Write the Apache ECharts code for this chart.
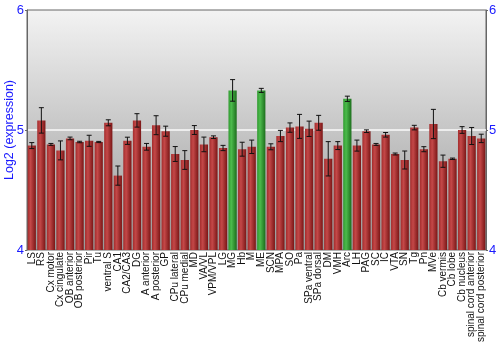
<!DOCTYPE html>
<html>
<head>
<meta charset="utf-8">
<script src="https://cdn.jsdelivr.net/npm/echarts@6/dist/echarts.min.js"></script>
<style>
    html, body { margin: 0; padding: 0; background: #fff; }
    #chart { width: 500px; height: 350px; }
</style>
</head>
<body>
<div id="chart"></div>
<script>
// brain regions, in the order shown
var regions = ['LS', 'RS', 'Cx motor', 'Cx cingulate', 'OB anterior', 'OB posterior', 'Pir', 'Tu',
    'ventral S', 'CA1', 'CA2/CA3', 'DG', 'A anterior', 'A posterior', 'GP', 'CPu lateral',
    'CPu medial', 'MD', 'VA/VL', 'VPM/VPL', 'LG', 'MG', 'Hb', 'M', 'ME', 'SCN', 'MPA', 'SO',
    'Pa', 'SPa ventral', 'SPa dorsal', 'DM', 'VMH', 'Arc', 'LH', 'PAG', 'SC', 'IC', 'VTA', 'SN',
    'Tg', 'Pn', 'MVe', 'Cb vermis', 'Cb lobe', 'Cb nucleus', 'spinal cord anterior', 'spinal cord posterior'];

// mean log2 expression
var expression = [4.87, 5.08, 4.88, 4.83, 4.93, 4.90, 4.91, 4.90,
    5.06, 4.62, 4.91, 5.08, 4.86, 5.04, 4.99, 4.80,
    4.75, 5.00, 4.88, 4.94, 4.85, 5.33, 4.84, 4.86, 5.33, 4.86, 4.95, 5.02,
    5.03, 5.01, 5.06, 4.76, 4.87, 5.26, 4.87, 4.99, 4.88, 4.96, 4.80, 4.75,
    5.02, 4.84, 5.05, 4.74, 4.76, 5.00, 4.95, 4.93];

// half-width of the error bars
var errors = [0.025, 0.106, 0.008, 0.079, 0.011, 0.006, 0.046, 0.005,
    0.025, 0.08, 0.03, 0.056, 0.028, 0.079, 0.042, 0.062,
    0.078, 0.037, 0.061, 0.011, 0.022, 0.09, 0.058, 0.056, 0.017, 0.025, 0.047, 0.039,
    0.1, 0.064, 0.062, 0.143, 0.033, 0.022, 0.046, 0.011, 0.008, 0.019, 0.008, 0.075,
    0.019, 0.021, 0.122, 0.051, 0.006, 0.028, 0.071, 0.035];

var highlighted = ['MG', 'ME', 'Arc'];

var yTicks = [4, 5, 6];

var redFill = new echarts.graphic.LinearGradient(0, 0, 1, 0, [
    { offset: 0, color: '#a32c2c' },
    { offset: 0.35, color: '#c44848' },
    { offset: 1, color: '#7a1616' }
]);
var greenFill = new echarts.graphic.LinearGradient(0, 0, 1, 0, [
    { offset: 0, color: '#2f9a2f' },
    { offset: 0.35, color: '#4cbb4c' },
    { offset: 1, color: '#1c6e1c' }
]);

var barData = expression.map(function (v, i) {
    var isHi = highlighted.indexOf(regions[i]) >= 0;
    return { value: v, itemStyle: { color: isHi ? greenFill : redFill } };
});

var errData = expression.map(function (v, i) {
    return [i, v - errors[i], v + errors[i]];
});

var axisBlue = '#1a1aff';

var chart = echarts.init(document.getElementById('chart'));

chart.setOption({
    animation: false,
    grid: {
        left: 27, right: 14, top: 10, bottom: 100,
        outerBoundsMode: 'none',
        containLabel: false,
        show: true,
        borderColor: '#666',
        borderWidth: 1,
        backgroundColor: new echarts.graphic.LinearGradient(0, 0, 0, 1, [
            { offset: 0, color: '#f3f3f3' },
            { offset: 1, color: '#999999' }
        ])
    },
    xAxis: {
        type: 'category',
        data: regions,
        axisLine: { show: false },
        axisTick: { show: false },
        axisLabel: {
            interval: 0,
            rotate: 90,
            margin: 2,
            fontSize: 10,
            fontFamily: 'Liberation Sans',
            color: '#111'
        }
    },
    yAxis: [{
        type: 'value',
        min: yTicks[0], max: yTicks[yTicks.length - 1], interval: 1,
        name: 'Log2 (expression)',
        nameLocation: 'middle',
        nameGap: 11,
        nameMoveOverlap: false,
        nameTextStyle: { color: axisBlue, fontSize: 12.5, fontFamily: 'Liberation Sans' },
        axisLine: { show: true, lineStyle: { color: '#666' } },
        axisTick: { show: true, length: 2, lineStyle: { color: '#666' } },
        axisLabel: { color: axisBlue, fontSize: 13, margin: 3, fontFamily: 'Liberation Sans' },
        splitLine: {
            show: true, showMinLine: false, showMaxLine: false,
            lineStyle: { color: '#fafafa', width: 1.5 }
        }
    }, {
        type: 'value',
        position: 'right',
        min: yTicks[0], max: yTicks[yTicks.length - 1], interval: 1,
        axisLine: { show: true, lineStyle: { color: '#666' } },
        axisTick: { show: true, length: 2, lineStyle: { color: '#666' } },
        axisLabel: { color: axisBlue, fontSize: 13, margin: 3, fontFamily: 'Liberation Sans' },
        splitLine: { show: false }
    }],
    series: [{
        type: 'bar',
        data: barData,
        barCategoryGap: '14%'
    }, {
        type: 'custom',
        data: errData,
        z: 5,
        renderItem: function (params, api) {
            var x = api.value(0);
            var lo = api.coord([x, api.value(1)]);
            var hi = api.coord([x, api.value(2)]);
            var cap = 2.5;
            var style = { stroke: '#111', lineWidth: 1 };
            return {
                type: 'group',
                children: [
                    { type: 'line', shape: { x1: lo[0], y1: lo[1], x2: hi[0], y2: hi[1] }, style: style },
                    { type: 'line', shape: { x1: hi[0] - cap, y1: hi[1], x2: hi[0] + cap, y2: hi[1] }, style: style },
                    { type: 'line', shape: { x1: lo[0] - cap, y1: lo[1], x2: lo[0] + cap, y2: lo[1] }, style: style }
                ]
            };
        }
    }]
});
</script>
</body>
</html>
